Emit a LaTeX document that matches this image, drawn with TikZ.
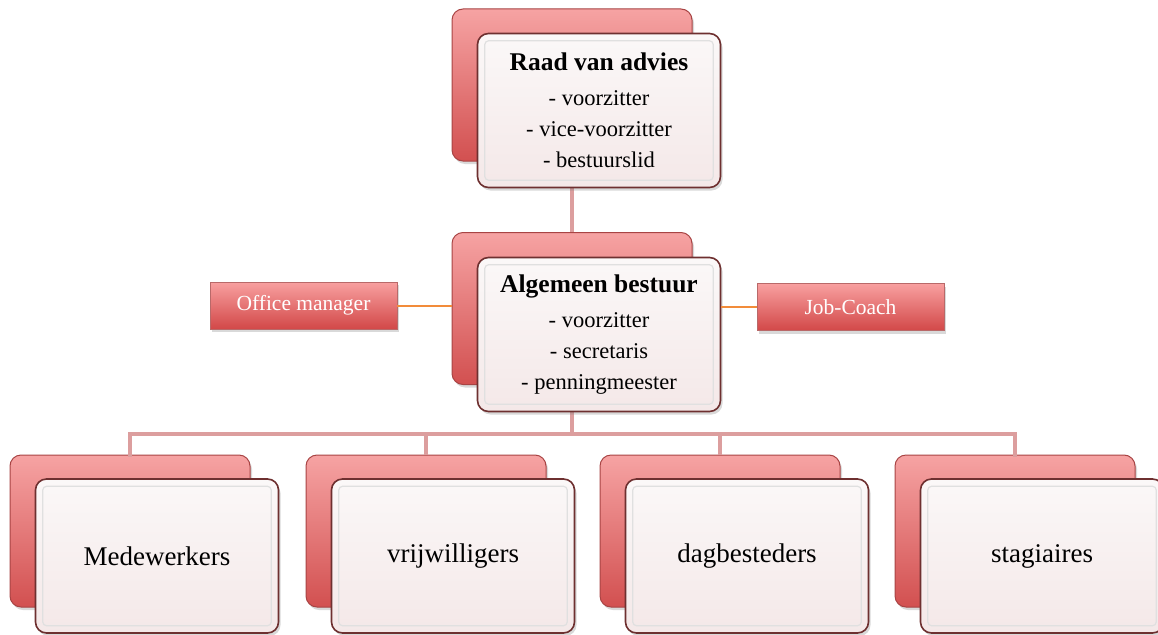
\documentclass[tikz,border=0pt]{standalone}
\usepackage{fontspec}
\setmainfont{Liberation Serif}
\usetikzlibrary{shadows}
\definecolor{backtop}{HTML}{F6A3A3}
\definecolor{backbot}{HTML}{D25050}
\definecolor{backdraw}{HTML}{A84444}
\definecolor{fronttop}{HTML}{FBF8F8}
\definecolor{frontbot}{HTML}{F4E8E8}
\definecolor{frontdraw}{HTML}{6E3030}
\definecolor{linkpink}{HTML}{DC9E9E}
\definecolor{linkorange}{HTML}{F28C3A}
\definecolor{sidetop}{HTML}{F8A0A0}
\definecolor{sidebot}{HTML}{D24848}
\tikzset{
  backbox/.style={rectangle, rounded corners=11pt, minimum width=240pt, minimum height=152pt,
    top color=backtop, bottom color=backbot, draw=backdraw, line width=1pt,
    drop shadow={shadow xshift=2pt, shadow yshift=-3pt, opacity=0.3}},
  frontbox/.style={rectangle, rounded corners=11pt, minimum width=243pt, minimum height=154pt,
    top color=fronttop, bottom color=frontbot, draw=frontdraw, line width=1.6pt,
    drop shadow={shadow xshift=2pt, shadow yshift=-3pt, opacity=0.3}, align=center,
    font=\fontsize{22.5}{31}\selectfont, text=black},
  sidebox/.style={rectangle, minimum width=187pt, minimum height=47pt,
    top color=sidetop, bottom color=sidebot, draw=backdraw!80, line width=0.8pt,
    drop shadow={shadow xshift=2pt, shadow yshift=-3pt, opacity=0.3},
    text=white, font=\fontsize{21.5}{24}\selectfont},
  bottomlabel/.style={font=\fontsize{27}{30}\selectfont},
  bevel/.style={draw=black!12, line width=1.2pt, rounded corners=4pt},
  link/.style={draw=linkpink, line width=4pt},
  sidelink/.style={draw=linkorange, line width=2pt},
}
\begin{document}
\begin{tikzpicture}[x=1pt, y=-1pt]
\useasboundingbox (0,0) rectangle (1158,634);
\clip (0,0) rectangle (1158,634);

% back boxes
\node[backbox] (topback) at (572,85) {};
\node[backbox] (midback) at (572,308.5) {};
\node[backbox] (b1back) at (130,531) {};
\node[backbox] (b2back) at (426,531) {};
\node[backbox] (b3back) at (720,531) {};
\node[backbox] (b4back) at (1015,531) {};

% connectors (behind front boxes)
\draw[link] (topback.south) -- (midback.north);
\coordinate (bus) at (572,434);
\draw[link] (midback.south) -- (bus);
\draw[link, line cap=rect] (b1back.north) |- (bus) -| (b4back.north);
\draw[link] (b2back.north) -- (b2back.north |- bus);
\draw[link] (b3back.north) -- (b3back.north |- bus);

% front boxes
\node[frontbox] (topfront) at (599,110.5) {{\fontsize{25.5}{30}\selectfont\bfseries Raad van advies}\\[4pt]- voorzitter\\- vice-voorzitter\\- bestuurslid};
\node[frontbox] (midfront) at (599,334.5) {{\fontsize{25.5}{30}\selectfont\bfseries Algemeen bestuur}\\[4pt]- voorzitter\\- secretaris\\- penningmeester};
\node[frontbox, bottomlabel] (b1front) at (157,556) {Medewerkers};
\node[frontbox, bottomlabel] (b2front) at (453,556) {vrijwilligers};
\node[frontbox, bottomlabel] (b3front) at (747,556) {dagbesteders};
\node[frontbox, bottomlabel] (b4front) at (1042,556) {stagiaires};
\foreach \f in {topfront,midfront,b1front,b2front,b3front,b4front}{
  \draw[bevel] ([shift={(8,8)}]\f.north west) rectangle ([shift={(-8,-8)}]\f.south east);
}

% side boxes
\node[sidebox] (office) at (303.5,305.5) {Office manager};
\node[sidebox] (jobcoach) at (850.5,307) {Job-Coach};
\draw[sidelink] (office.east) -- (office.east -| midback.west);
\draw[sidelink] (jobcoach.west) -- (jobcoach.west -| midfront.east);
\end{tikzpicture}
\end{document}
